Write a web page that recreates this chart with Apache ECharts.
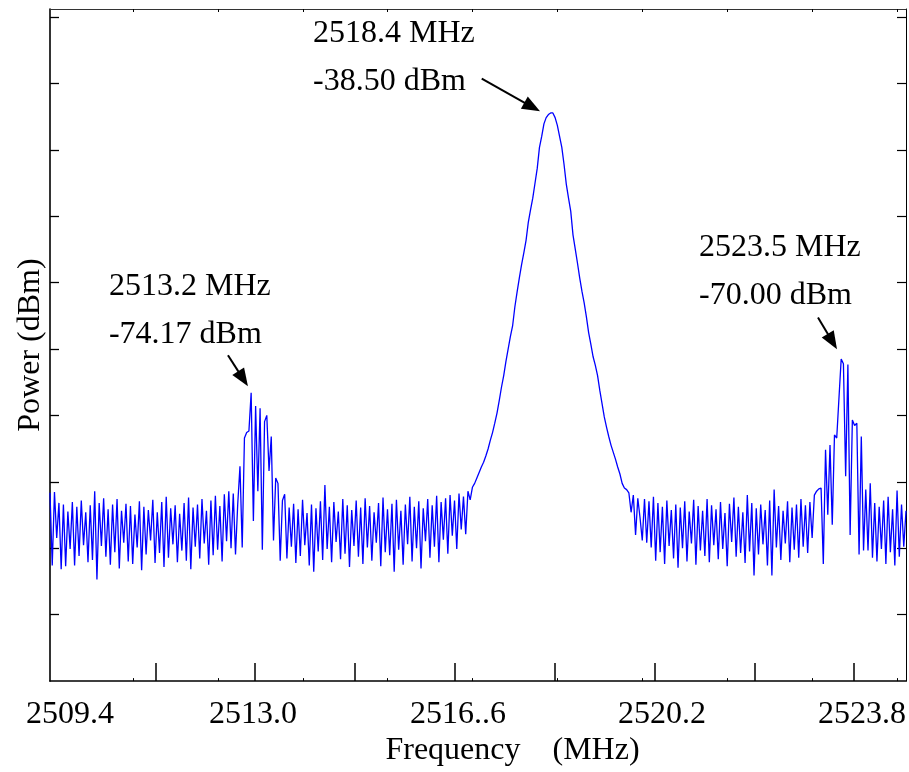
<!DOCTYPE html>
<html>
<head>
<meta charset="utf-8">
<script src="https://cdn.jsdelivr.net/npm/echarts@6/dist/echarts.min.js"></script>
<style>
html,body{margin:0;padding:0;background:#fff;}
#c{width:909px;height:772px;}
</style>
</head>
<body>
<div id="c"></div>
<script>
// ---------------- data ----------------
const SWEEP_START_MHZ = 2509.30;
const SWEEP_STOP_MHZ = 2524.735;

// measured trace, dBm, one value per sweep point (384 points)
const POWER_DBM = [
  // noise floor, left
  -87.1, -96.4, -87.0, -92.9, -88.4, -96.9, -88.6, -96.5, -89.5, -94.3,
  -88.3, -96.4, -88.9, -95.2, -88.1, -93.8, -89.6, -96.0, -88.7, -95.7,
  -86.9, -98.2, -88.4, -93.9, -87.8, -95.3, -89.2, -96.3, -88.6, -94.7,
  -87.9, -96.8, -89.4, -93.5, -88.5, -95.9, -88.8, -96.2, -89.9, -94.1,
  -88.2, -97.0, -88.9, -95.0, -89.3, -93.2, -88.0, -96.1, -89.6, -94.8,
  -88.3, -96.6, -87.6, -95.4, -89.1, -93.7, -88.7, -96.0, -89.8, -94.5,
  -88.4, -95.8, -87.7, -96.9, -89.0, -94.0, -88.6, -95.5, -87.9, -93.6,
  -89.4, -96.3, -88.1, -95.1, -87.5, -94.4, -88.8, -95.9, -87.3, -93.3,
  -86.9, -94.2, -87.2, -95.0,
  // lower sideband
  -88.5, -83.7, -94.1, -80.1, -79.4, -79.2, -74.3, -90.7, -76.0, -86.9,
  -76.3, -94.4, -78.0, -77.2, -84.3, -79.9, -93.2, -85.2, -85.9, -95.8,
  // noise floor, centre-left
  -88.1, -87.3, -95.5, -89.0, -94.0, -88.5, -96.1, -89.2, -95.2, -88.0,
  -93.8, -89.7, -96.4, -88.6, -97.2, -89.1, -94.6, -88.2, -95.7, -86.1,
  -94.3, -88.9, -96.0, -88.3, -93.4, -89.5, -95.6, -87.9, -94.9, -88.7,
  -96.6, -89.3, -93.9, -88.1, -95.3, -89.0, -96.2, -87.8, -94.1, -88.8,
  -95.8, -89.6, -93.5, -88.4, -96.5, -87.7, -94.7, -89.2, -95.1, -88.5,
  -97.2, -88.0, -94.4, -89.4, -96.3, -88.6, -93.7, -87.6, -95.9, -88.9,
  -94.2, -88.2, -96.8, -89.1, -93.3, -87.9, -95.4, -88.7, -94.0, -87.5,
  -96.0, -88.3, -93.1, -87.8, -94.9, -87.4, -92.6, -88.1, -94.3, -87.2,
  -91.8, -87.6, -92.4, -86.9, -88.0,
  // carrier
  -86.4, -85.9, -85.2, -84.5, -83.8, -83.2, -82.4, -81.5, -80.4, -79.4,
  -78.2, -76.9, -75.3, -73.6, -72.1, -70.3, -68.7, -67.1, -65.7, -63.3,
  -61.4, -59.6, -57.9, -56.4, -54.8, -52.5, -50.9, -49.4, -47.5, -45.6,
  -42.9, -41.5, -39.9, -39.1, -38.7, -38.5, -38.5, -39.1, -40.1, -41.5,
  -42.9, -45.1, -47.6, -49.4, -51.1, -54.1, -55.9, -57.7, -59.6, -61.3,
  -62.8, -64.6, -66.6, -68.1, -69.7, -70.8, -72.1, -74.0, -75.7, -77.4,
  -78.7, -79.9, -81.0, -81.9, -82.8, -83.8, -84.7, -85.9, -86.5, -86.7,
  -87.1,
  // noise floor, centre-right
  -89.6, -87.4, -92.5, -87.8, -90.3, -93.2, -87.9, -93.5, -88.2, -94.1,
  -87.6, -95.8, -88.4, -94.7, -88.9, -96.2, -88.1, -93.9, -89.3, -95.5,
  -88.6, -96.7, -89.0, -94.2, -88.2, -95.9, -89.5, -93.6, -88.0, -96.3,
  -88.8, -94.5, -89.4, -95.2, -87.9, -96.0, -88.7, -93.8, -89.2, -95.6,
  -88.3, -94.3, -89.7, -96.5, -88.5, -93.4, -87.7, -95.3, -88.9, -94.8,
  -89.6, -96.1, -87.4, -94.6, -88.4, -97.7, -89.1, -95.0, -88.6, -93.7,
  -89.3, -96.4, -88.1, -97.7, -86.7, -94.1, -88.8, -95.7, -89.4, -93.6,
  -88.2, -96.0, -89.0, -94.4, -88.6, -95.4, -87.9, -94.0, -88.7, -94.8,
  -88.3, -92.9,
  // upper sideband
  -87.4, -86.9, -86.6, -86.5, -96.2, -81.6, -89.9, -81.0, -91.2, -79.7,
  -80.1, -75.0, -70.0, -70.6, -85.0, -70.7, -92.5, -77.8, -78.5, -78.2,
  -95.0, -79.9, -94.5, -86.7, -94.5, -85.9, -95.4,
  // noise floor, right
  -88.4, -95.9, -88.9, -94.3, -88.1, -96.2, -87.6, -94.7, -89.2, -96.4,
  -86.8, -95.3, -88.6, -94.0, -89.4
];

const Y_MIN_DBM = -111.2;
const Y_MAX_DBM = -25.2;

const MAJOR_TICKS_MHZ = [2511.2, 2513.0, 2514.8, 2516.6, 2518.4, 2520.2, 2522.0, 2523.8];
const TICK_LABELS_MHZ = [2509.4, 2513.0, 2516.6, 2520.2, 2523.8];
const TICK_LABEL_TEXT = ['2509.4', '2513.0', '2516..6', '2520.2', '2523.8'];
const MINOR_TICKS = [1, 2, 3, 4, 5, 6, 7, 8, 9, 10];
const Y_TICKS = [1, 2, 3, 4, 5, 6, 7, 8, 9, 10];

const PEAK_LABELS = [
  { lines: ['2513.2 MHz', '-74.17 dBm'], windowMHz: [2512.5, 2514.0] },
  { lines: ['2518.4 MHz', '-38.50 dBm'], windowMHz: [2517.0, 2520.0] },
  { lines: ['2523.5 MHz', '-70.00 dBm'], windowMHz: [2523.0, 2524.2] }
];

// ---------------- layout / style ----------------
const FONT = '"Liberation Serif", "Times New Roman", serif';
const FS = 32;
const LABEL_SHIFT_PX = [14.5, -2.2, 3.1, 7.5, 7.8];
const ANNOT_LAYOUT = [
  { tip: [-3.2, -6.4], tail: [-20, -31], text: [-139, -123.8] },
  { tip: [-10.6, -1.6], tail: [-58.3, -32.7], text: [-227, -102.2] },
  { tip: [-4.2, -9.9], tail: [-19, -31.7], text: [-138, -125.5] }
];

const N = POWER_DBM.length;
const FREQS = POWER_DBM.map((_, i) => SWEEP_START_MHZ + i * (SWEEP_STOP_MHZ - SWEEP_START_MHZ) / (N - 1));
const seriesData = POWER_DBM.map((v, i) => [FREQS[i], v]);

const rich = {};
LABEL_SHIFT_PX.forEach((s, k) => {
  rich['s' + k] = {
    fontFamily: FONT, fontSize: FS, color: '#000',
    padding: s >= 0 ? [0, 0, 0, 2 * s] : [0, -2 * s, 0, 0]
  };
});

const option = {
  animation: false,
  backgroundColor: '#fff',
  grid: { left: 50, right: 3, top: 9, bottom: 88, containLabel: false },
  xAxis: [
    {
      type: 'value', min: SWEEP_START_MHZ, max: SWEEP_STOP_MHZ, position: 'bottom',
      name: 'Frequency    (MHz)', nameLocation: 'middle', nameGap: 53,
      nameTextStyle: { fontFamily: FONT, fontSize: FS, color: '#000', padding: [0, 0, 0, 69] },
      axisLine: { show: true, onZero: false, lineStyle: { color: '#000', width: 1.6 } },
      axisTick: { show: true, inside: true, length: 18, customValues: MAJOR_TICKS_MHZ, lineStyle: { color: '#000', width: 1.5 } },
      axisLabel: {
        show: true, margin: 17, fontFamily: FONT, fontSize: FS, color: '#000',
        customValues: TICK_LABELS_MHZ,
        formatter: function (val) {
          const k = TICK_LABELS_MHZ.findIndex(v => Math.abs(v - val) < 1e-6);
          if (k < 0) return '';
          return '{s' + k + '|' + TICK_LABEL_TEXT[k] + '}';
        },
        rich: rich
      },
      splitLine: { show: false }
    },
    {
      type: 'value', min: 0.0224, max: 10.105, position: 'bottom',
      axisLine: { show: false, onZero: false },
      axisTick: { show: true, inside: true, length: 3, customValues: MINOR_TICKS, lineStyle: { color: '#000', width: 1 } },
      axisLabel: { show: false }, splitLine: { show: false }
    },
    {
      type: 'value', min: 0.0224, max: 10.105, position: 'top',
      axisLine: { show: true, onZero: false, lineStyle: { color: '#333', width: 1 } },
      axisTick: { show: true, inside: true, length: 3, customValues: MINOR_TICKS, lineStyle: { color: '#000', width: 1 } },
      axisLabel: { show: false }, splitLine: { show: false }
    }
  ],
  yAxis: [
    { type: 'value', min: Y_MIN_DBM, max: Y_MAX_DBM, show: false, splitLine: { show: false } },
    {
      type: 'value', min: 0, max: 10.12, position: 'left',
      name: 'Power (dBm)', nameLocation: 'middle', nameGap: 3,
      nameTextStyle: { fontFamily: FONT, fontSize: FS, color: '#000' },
      axisLine: { show: true, onZero: false, lineStyle: { color: '#000', width: 1.6 } },
      axisTick: { show: true, inside: true, length: 9, customValues: Y_TICKS, lineStyle: { color: '#000', width: 1.3 } },
      axisLabel: { show: false }, splitLine: { show: false }
    },
    {
      type: 'value', min: 0, max: 10.12, position: 'right',
      axisLine: { show: true, onZero: false, lineStyle: { color: '#000', width: 1 } },
      axisTick: { show: true, inside: true, length: 9, customValues: Y_TICKS, lineStyle: { color: '#000', width: 1.2 } },
      axisLabel: { show: false }, splitLine: { show: false }
    }
  ],
  series: [{
    type: 'line', xAxisIndex: 0, yAxisIndex: 0, data: seriesData,
    showSymbol: false, symbol: 'none', silent: true, clip: true,
    lineStyle: { color: '#0000ff', width: 1.3 }
  }]
};

const chart = echarts.init(document.getElementById('c'), null, { renderer: 'canvas' });
chart.setOption(option);

// annotations (arrow + two-line text) anchored to the detected peaks
const graphics = [];
PEAK_LABELS.forEach((p, k) => {
  let best = -1;
  for (let i = 0; i < N; i++) {
    const f = FREQS[i];
    if (f >= p.windowMHz[0] && f <= p.windowMHz[1] && (best < 0 || POWER_DBM[i] > POWER_DBM[best])) best = i;
  }
  const px = chart.convertToPixel({ seriesIndex: 0 }, [FREQS[best], POWER_DBM[best]]);
  const L = ANNOT_LAYOUT[k];
  const tip = [px[0] + L.tip[0], px[1] + L.tip[1]];
  const tail = [tip[0] + L.tail[0], tip[1] + L.tail[1]];
  const dx = tip[0] - tail[0], dy = tip[1] - tail[1];
  const len = Math.sqrt(dx * dx + dy * dy);
  const ux = dx / len, uy = dy / len;
  const headLen = 18, headHalf = 7;
  const base = [tip[0] - ux * headLen, tip[1] - uy * headLen];
  graphics.push({
    type: 'line', silent: true,
    shape: { x1: tail[0], y1: tail[1], x2: base[0] + ux * 2, y2: base[1] + uy * 2 },
    style: { stroke: '#000', lineWidth: 2 }
  });
  graphics.push({
    type: 'polygon', silent: true,
    shape: { points: [tip, [base[0] - uy * headHalf, base[1] + ux * headHalf], [base[0] + uy * headHalf, base[1] - ux * headHalf]] },
    style: { fill: '#000' }
  });
  graphics.push({
    type: 'text', silent: true,
    x: tip[0] + L.text[0], y: tip[1] + L.text[1],
    style: {
      text: p.lines.join('\n'), fontFamily: FONT, fontSize: FS, fill: '#000',
      lineHeight: 48, align: 'left', verticalAlign: 'top'
    }
  });
});
chart.setOption({ graphic: graphics });
</script>
</body>
</html>
